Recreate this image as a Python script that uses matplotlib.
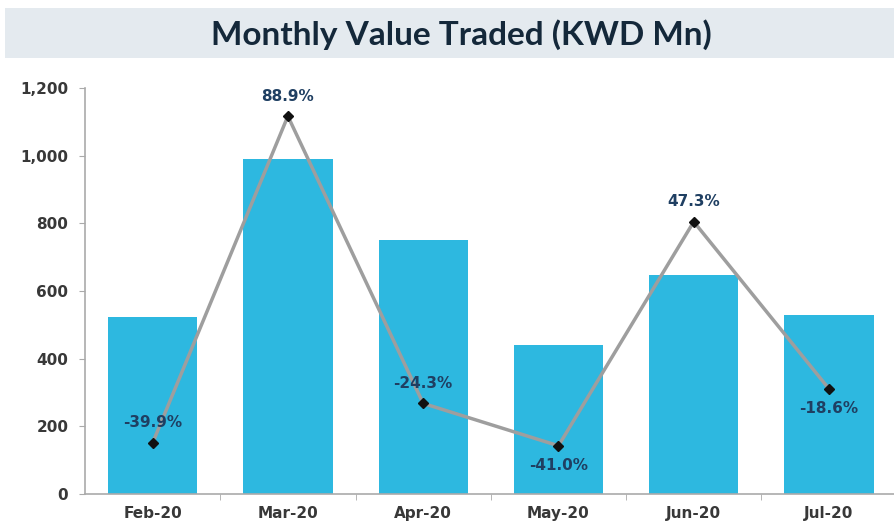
import matplotlib
matplotlib.use("Agg")
import matplotlib.pyplot as plt
from matplotlib.patches import Rectangle

months = ["Feb-20", "Mar-20", "Apr-20", "May-20", "Jun-20", "Jul-20"]
value_traded = [523, 990, 751, 440, 647, 529]
mom_change = [-39.9, 88.9, -24.3, -41.0, 47.3, -18.6]
label_above = [True, True, True, False, True, False]

BAR_COLOR = "#2DB8E0"
LINE_COLOR = "#9E9E9E"
LABEL_COLOR = "#1F3F62"
TICK_COLOR = "#383838"

fig = plt.figure(figsize=(8.94, 5.28), dpi=100)

# Title banner
fig.patches.append(Rectangle((0.006, 0.89), 0.994, 0.095, transform=fig.transFigure,
                             facecolor="#E4EAEF", edgecolor="none", zorder=0))
fig.text(0.516, 0.935, "Monthly Value Traded (KWD Mn)", ha="center", va="center",
         fontsize=24, fontweight="bold", color="#14283A", family="Lato")

ax = fig.add_axes([0.095, 0.0644, 0.908, 0.769])
x = range(len(months))
ax.bar(x, value_traded, width=0.66, color=BAR_COLOR, zorder=2)
ax.set_xlim(-0.5, 5.5)
ax.set_ylim(0, 1200)
ax.set_yticks(range(0, 1201, 200))
ax.set_yticklabels([f"{v:,}" for v in range(0, 1201, 200)])
ax.set_xticks(list(x))
ax.set_xticklabels(months)
ax.set_xticks([i + 0.5 for i in range(len(months) - 1)], minor=True)
for lbl in ax.get_xticklabels() + ax.get_yticklabels():
    lbl.set_fontweight("bold")
    lbl.set_fontsize(11)
    lbl.set_color(TICK_COLOR)
    lbl.set_family("DejaVu Sans")
ax.tick_params(axis="x", which="major", length=0, pad=9)
ax.tick_params(axis="x", which="minor", length=4, color="#AAAAAA")
ax.tick_params(axis="y", length=4, color="#AAAAAA", pad=8)
for side in ["top", "right"]:
    ax.spines[side].set_visible(False)
ax.spines["left"].set_color("#AAAAAA")
ax.spines["bottom"].set_color("#AAAAAA")
ax.spines["left"].set_linewidth(1.2)
ax.spines["bottom"].set_linewidth(1.2)

# secondary axis for % change
ax2 = ax.twinx()
ax2.set_ylim(-60, 100)
ax2.plot(list(x), mom_change, color=LINE_COLOR, linewidth=2.5, marker="D",
         markersize=5, markerfacecolor="#111111", markeredgecolor="#111111", zorder=3)
ax2.axis("off")
for i, (v, above) in enumerate(zip(mom_change, label_above)):
    ax2.annotate(f"{v:.1f}%", (i, v), xytext=(0, 9 if above else -9),
                 textcoords="offset points", ha="center",
                 va="bottom" if above else "top", fontsize=11, fontweight="bold",
                 color=LABEL_COLOR, family="DejaVu Sans")

fig.savefig("out.png", dpi=100)
